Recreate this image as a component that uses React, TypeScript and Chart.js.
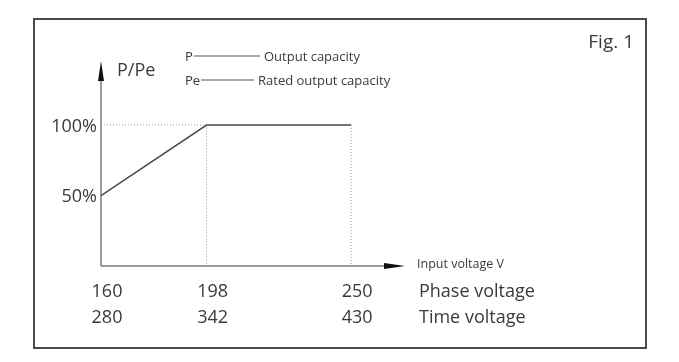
import React, { useEffect, useRef } from 'react';
import { Chart, registerables } from 'chart.js';

Chart.register(...registerables);

// ---- data ----
const phaseVoltage = [160, 198, 250];
const timeVoltage = [280, 342, 430];
const outputPercent = [50, 100, 100];
const yTickValues = [50, 100];
const rowLabels = ['Phase voltage', 'Time voltage'];
const xAxisTitle = 'Input voltage V';
const yAxisTitle = 'P/Pe';
const legendSymbols = ['P', 'Pe'];
const legendTexts = ['Output capacity', 'Rated output capacity'];
const figLabel = 'Fig. 1';

const X_MIN = 160;
const X_MAX = 269.4;
const Y_MIN = 0;
const Y_MAX = 145.4;

const FONT = '"Open Sans", "Noto Sans", sans-serif';
const TEXT = '#3a3a3a';

const figurePlugin = {
  id: 'figureDecor',
  beforeDatasetsDraw(chart: any) {
    const { ctx, chartArea: a } = chart;
    ctx.save();
    // outer frame
    ctx.strokeStyle = '#4a4a4a';
    ctx.lineWidth = 2;
    ctx.strokeRect(34, 19, 612, 329);
    // axes
    ctx.strokeStyle = '#7a7a7a';
    ctx.lineWidth = 1.5;
    ctx.beginPath();
    ctx.moveTo(a.left, a.bottom);
    ctx.lineTo(a.left, a.top + 18);
    ctx.moveTo(a.left, a.bottom);
    ctx.lineTo(a.right - 18, a.bottom);
    ctx.stroke();
    // arrow heads
    ctx.fillStyle = '#111';
    ctx.beginPath();
    ctx.moveTo(a.left, a.top);
    ctx.lineTo(a.left - 3, a.top + 20);
    ctx.lineTo(a.left + 3, a.top + 20);
    ctx.closePath();
    ctx.fill();
    ctx.beginPath();
    ctx.moveTo(a.right, a.bottom);
    ctx.lineTo(a.right - 21, a.bottom - 3);
    ctx.lineTo(a.right - 21, a.bottom + 3);
    ctx.closePath();
    ctx.fill();
    ctx.restore();
  },
  afterDraw(chart: any) {
    const { ctx, chartArea: a } = chart;
    const xs = chart.scales.x;
    const ys = chart.scales.y;
    ctx.save();
    ctx.fillStyle = TEXT;
    ctx.textBaseline = 'alphabetic';

    // y tick labels
    ctx.font = `18px ${FONT}`;
    ctx.textAlign = 'right';
    yTickValues.forEach((v) => {
      ctx.fillText(`${v}%`, a.left - 4, ys.getPixelForValue(v) + 6.5);
    });

    // y axis title
    ctx.textAlign = 'left';
    ctx.fillText(yAxisTitle, a.left + 16, 76);

    // x value rows
    ctx.textAlign = 'center';
    phaseVoltage.forEach((v, i) => {
      const px = xs.getPixelForValue(v) + 6;
      ctx.fillText(String(v), px, 297);
      ctx.fillText(String(timeVoltage[i]), px, 323);
    });
    ctx.textAlign = 'left';
    ctx.fillText(rowLabels[0], a.right + 14, 297);
    ctx.fillText(rowLabels[1], a.right + 14, 323);

    // x axis title
    ctx.font = `12.5px ${FONT}`;
    ctx.fillText(xAxisTitle, a.right + 12, 268);

    // legend rows
    ctx.font = `13px ${FONT}`;
    const rows = [
      { y: 60.5, textX: 264 },
      { y: 84.5, textX: 258 },
    ];
    rows.forEach((r, i) => {
      ctx.fillStyle = TEXT;
      ctx.fillText(legendSymbols[i], 185, r.y);
      ctx.fillText(legendTexts[i], r.textX, r.y);
      const symEnd = 185 + ctx.measureText(legendSymbols[i]).width + 1;
      ctx.strokeStyle = '#555';
      ctx.lineWidth = 1;
      ctx.beginPath();
      ctx.moveTo(symEnd, r.y - 4.5);
      ctx.lineTo(r.textX - 4, r.y - 4.5);
      ctx.stroke();
    });

    // figure label
    ctx.font = `19px ${FONT}`;
    ctx.textAlign = 'right';
    ctx.fillText(figLabel, 634, 48);
    ctx.restore();
  },
};

export default function App() {
  const canvasRef = useRef<HTMLCanvasElement | null>(null);

  useEffect(() => {
    if (!canvasRef.current) return;
    const mainPoints = phaseVoltage.map((v, i) => ({ x: v, y: outputPercent[i] }));
    const guideA = [
      { x: phaseVoltage[0], y: outputPercent[1] },
      { x: phaseVoltage[1], y: outputPercent[1] },
      { x: phaseVoltage[1], y: Y_MIN },
    ];
    const guideB = [
      { x: phaseVoltage[2], y: outputPercent[2] },
      { x: phaseVoltage[2], y: Y_MIN },
    ];
    const chart = new Chart(canvasRef.current, {
      type: 'line',
      data: {
        datasets: [
          {
            data: mainPoints,
            borderColor: '#4a4a4a',
            borderWidth: 1.5,
            pointRadius: 0,
            tension: 0,
            clip: false as any,
          },
          {
            data: guideA,
            borderColor: '#9a9a9a',
            borderWidth: 1,
            borderDash: [1, 2],
            pointRadius: 0,
            tension: 0,
            clip: false as any,
          },
          {
            data: guideB,
            borderColor: '#9a9a9a',
            borderWidth: 1,
            borderDash: [1, 2],
            pointRadius: 0,
            tension: 0,
            clip: false as any,
          },
        ],
      },
      options: {
        animation: false,
        responsive: false,
        devicePixelRatio: 1,
        layout: { padding: { left: 101, right: 274, top: 61, bottom: 96 } },
        scales: {
          x: { type: 'linear', min: X_MIN, max: X_MAX, display: false },
          y: { type: 'linear', min: Y_MIN, max: Y_MAX, display: false },
        },
        plugins: {
          legend: { display: false },
          tooltip: { enabled: false },
        },
      },
      plugins: [figurePlugin],
    });
    return () => chart.destroy();
  }, []);

  return (
    <div style={{ position: 'absolute', left: 0, top: 0, width: 679, height: 362, background: '#fff' }}>
      <canvas ref={canvasRef} width={679} height={362} style={{ display: 'block' }} />
    </div>
  );
}
